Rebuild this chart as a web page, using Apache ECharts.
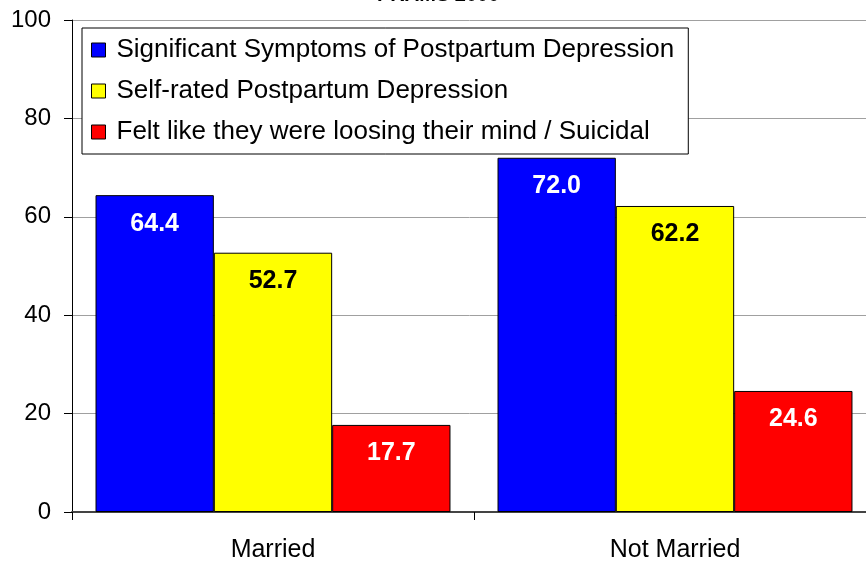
<!DOCTYPE html>
<html>
<head>
<meta charset="utf-8">
<script src="https://cdn.jsdelivr.net/npm/echarts@6/dist/echarts.min.js"></script>
<style>
  html, body { margin: 0; padding: 0; background: #fff; }
  #chart { width: 866px; height: 561px; }
</style>
</head>
<body>
<div id="chart"></div>
<script>
// categories and values
const categories = ["Married", "Not Married"];
const seriesNames = [
  "Significant Symptoms of Postpartum Depression",
  "Self-rated Postpartum Depression",
  "Felt like they were loosing their mind / Suicidal"
];
const symptoms = [64.4, 72.0];
const selfRated = [52.7, 62.2];
const suicidal = [17.7, 24.6];
const yTicks = { min: 0, max: 100, interval: 20 };

const font = "'Liberation Sans', Arial, sans-serif";

// one bar series
function makeBar(name, data, color, labelColor) {
  return {
    name: name,
    type: "bar",
    data: data,
    barGap: 0,
    barCategoryGap: "11.7%",
    itemStyle: { color: color, borderColor: "#000", borderWidth: 1 },
    label: {
      show: true,
      position: "insideTop",
      distance: 16,
      formatter: (p) => p.value.toFixed(1),
      color: labelColor,
      fontFamily: font,
      fontWeight: "bold",
      fontSize: 25
    }
  };
}

const chart = echarts.init(document.getElementById("chart"));
chart.setOption({
  animation: false,
  title: {
    text: "PRAMS 2000",
    left: 372,
    top: -20,
    textStyle: { fontFamily: font, fontSize: 20, fontWeight: "bold", color: "#000" }
  },
  legend: {
    orient: "vertical",
    left: 82,
    top: 28,
    padding: [9, 14, 9, 9],
    itemGap: 15,
    itemWidth: 14,
    itemHeight: 14,
    icon: "rect",
    borderColor: "#000",
    borderWidth: 1,
    backgroundColor: "#fff",
    itemStyle: { borderColor: "#000", borderWidth: 1 },
    textStyle: { fontFamily: font, fontSize: 26, color: "#000", lineHeight: 26, padding: [0, 0, 0, 6] },
    data: seriesNames
  },
  grid: { left: 72, top: 20, width: 804, height: 492, outerBoundsMode: "none" },
  xAxis: {
    type: "category",
    data: categories,
    axisLine: { lineStyle: { color: "#444", width: 2 } },
    axisTick: { show: true, length: 8, lineStyle: { color: "#000" } },
    axisLabel: { margin: 26, fontFamily: font, fontSize: 25, color: "#000" }
  },
  yAxis: {
    type: "value",
    min: yTicks.min,
    max: yTicks.max,
    interval: yTicks.interval,
    axisLine: { show: true, lineStyle: { color: "#000" } },
    axisTick: { show: true, length: 8, lineStyle: { color: "#000" } },
    axisLabel: { margin: 21, fontFamily: font, fontSize: 24, color: "#000" },
    splitLine: { lineStyle: { color: "#a0a0a0", width: 1 } }
  },
  series: [
    makeBar(seriesNames[0], symptoms, "#0000ff", "#fff"),
    makeBar(seriesNames[1], selfRated, "#ffff00", "#000"),
    makeBar(seriesNames[2], suicidal, "#ff0000", "#fff")
  ]
});
</script>
</body>
</html>
